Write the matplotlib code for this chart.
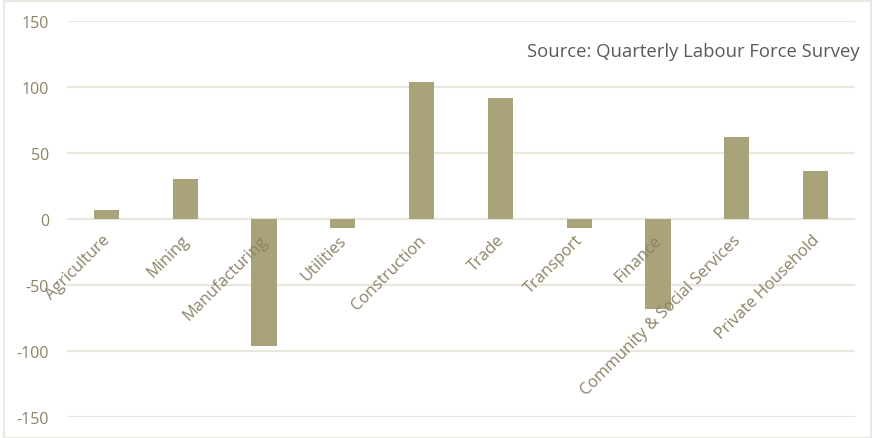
import numpy as np
import matplotlib.pyplot as plt
from matplotlib.patches import Rectangle

# employment change by industry (thousands)
categories = ['Agriculture', 'Mining', 'Manufacturing', 'Utilities', 'Construction',
              'Trade', 'Transport', 'Finance', 'Community & Social Services',
              'Private Household']
values = [6.5, 30.5, -96, -6.5, 104, 91.5, -7, -68, 62.5, 36.5]
yticks = [-150, -100, -50, 0, 50, 100, 150]

bar_color = '#a8a379'
label_color = '#8c8266'
grid_color = '#e9e7dd'

plt.rcParams['font.family'] = ['Open Sans', 'DejaVu Sans']

fig = plt.figure(figsize=(8.75, 4.39), dpi=100)
ax = fig.add_axes([67 / 875, 1 - 418 / 439, 788 / 875, 396 / 439])

x = np.arange(len(categories))
ax.bar(x, values, width=0.32, color=bar_color, zorder=3)

ax.set_xlim(-0.5, len(categories) - 0.5)
ax.set_ylim(-150, 150)
ax.set_yticks(yticks)
ax.set_yticklabels([str(v) for v in yticks], color=label_color, fontsize=11.5)
ax.tick_params(axis='y', length=0, pad=13)
ax.set_xticks([])
ax.grid(axis='y', color=grid_color, linewidth=1.6, zorder=0)
for s in ax.spines.values():
    s.set_visible(False)

# category labels sit along the zero line, rotated
for xi, name in zip(x, categories):
    ax.text(xi + 0.02, -14, name, rotation=45, ha='right', va='center',
            rotation_mode='anchor', color=label_color, fontsize=11.8, zorder=4)

fig.text(860 / 875, 1 - 52 / 439, 'Source: Quarterly Labour Force Survey',
         ha='right', va='center', fontsize=13.3, color='#595959')

# light frame around the chart
fig.patches.append(Rectangle((4 / 875, 0), 867 / 875, 437 / 439, transform=fig.transFigure,
                             fill=False, edgecolor='#e6e4dc', linewidth=1.2))

fig.savefig('out.png', dpi=100)
